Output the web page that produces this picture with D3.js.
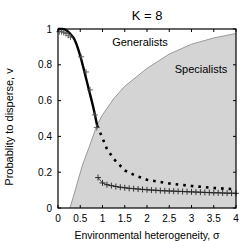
<!DOCTYPE html>
<html><head><meta charset="utf-8">
<script src="https://cdn.jsdelivr.net/npm/d3@7"></script>
<style>body{margin:0;background:#fff}text{font-family:"Liberation Sans",Arial,sans-serif}</style>
</head><body><svg id="c" width="242" height="241"></svg>
<script>
const xTicks=[0,0.5,1,1.5,2,2.5,3,3.5,4];
const yTicks=[0,0.2,0.4,0.6,0.8,1];
const boundaryX=[0.27,0.4,0.55,0.7,0.87,1.0,1.25,1.5,1.75,2.0,2.5,3.0,3.5,4.0];
const boundaryY=[0,0.11,0.24,0.34,0.46,0.52,0.61,0.68,0.73,0.78,0.86,0.915,0.95,0.975];
const solidX=[0,0.1,0.15,0.2,0.25,0.3,0.35,0.4,0.5,0.6,0.7,0.8,0.88];
const solidY=[1,1,0.998,0.99,0.98,0.965,0.95,0.925,0.85,0.755,0.655,0.555,0.46];
const dotX=[0.88,1.0,1.1,1.25,1.5,1.75,2.0,2.5,3.0,3.5,4.0];
const dotY=[0.46,0.39,0.33,0.275,0.21,0.18,0.158,0.137,0.123,0.112,0.104];
const plusUpX=[0.03,0.08,0.13,0.18,0.23,0.28,0.52,0.63,0.72,0.83,0.87];
const plusUpY=[0.985,0.985,0.98,0.975,0.965,0.955,0.845,0.76,0.66,0.52,0.45];
const plusLoX=[0.9,1.0,1.1,1.2,1.3,1.4,1.5,1.6,1.7,1.8,1.9,2.0,2.1,2.2,2.3,2.4,2.5,2.6,2.7,2.8,2.9,3.0,3.1,3.2,3.3,3.4,3.5,3.6,3.7,3.8,3.9,4.0];
const plusLoY=[0.17,0.14,0.13,0.125,0.12,0.116,0.113,0.11,0.108,0.106,0.104,0.102,0.1,0.099,0.097,0.096,0.095,0.094,0.093,0.092,0.091,0.09,0.089,0.088,0.087,0.086,0.085,0.085,0.084,0.083,0.083,0.082];

const svg=d3.select("#c");
const L=58,R=236,T=29,B=208;
const x=d3.scaleLinear().domain([0,4]).range([L,R]);
const y=d3.scaleLinear().domain([0,1]).range([B,T]);
const g=svg.append("g");
const zip=(a,b)=>a.map((v,i)=>[v,b[i]]);
const line=d3.line().x(d=>x(d[0])).y(d=>y(d[1]));

// gray region
const bpts=zip(boundaryX,boundaryY);
g.append("path").attr("d",line(bpts.concat([[4,0]]))+"Z").attr("fill","#d4d4d4").attr("stroke","none");
g.append("path").attr("d",line(bpts)).attr("fill","none").attr("stroke","#9a9a9a").attr("stroke-width",1);

// lower plus series with thin line
const lo=zip(plusLoX,plusLoY);
g.append("path").attr("d",line(lo)).attr("fill","none").attr("stroke","#333").attr("stroke-width",0.8);
function plus(pts,col){
  g.selectAll(null).data(pts).enter().append("path")
   .attr("d",d=>`M${x(d[0])-3},${y(d[1])}h6M${x(d[0])},${y(d[1])-3}v6`)
   .attr("stroke",col).attr("stroke-width",0.9).attr("fill","none");
}
plus(lo,"#222");

// dotted line
g.append("path").attr("d",line(zip(dotX,dotY))).attr("fill","none").attr("stroke","#000")
 .attr("stroke-width",2.6).attr("stroke-dasharray","2.6,5");
// solid line
g.append("path").attr("d",d3.line().curve(d3.curveMonotoneX).x(d=>x(d[0])).y(d=>y(d[1]))(zip(solidX,solidY)))
 .attr("fill","none").attr("stroke","#000").attr("stroke-width",2.4);
plus(zip(plusUpX,plusUpY),"#555");

// frame
g.append("rect").attr("x",L).attr("y",T).attr("width",R-L).attr("height",B-T).attr("fill","none").attr("stroke","#000").attr("stroke-width",1.2);
// ticks
xTicks.forEach(t=>{
  g.append("line").attr("x1",x(t)).attr("x2",x(t)).attr("y1",B).attr("y2",B-3).attr("stroke","#000");
  g.append("line").attr("x1",x(t)).attr("x2",x(t)).attr("y1",T).attr("y2",T+3).attr("stroke","#000");
  g.append("text").attr("x",x(t)).attr("y",B+14).attr("text-anchor","middle").attr("font-size",10).text(t);
});
yTicks.forEach(t=>{
  g.append("line").attr("x1",L).attr("x2",L+3).attr("y1",y(t)).attr("y2",y(t)).attr("stroke","#000");
  g.append("line").attr("x1",R).attr("x2",R-3).attr("y1",y(t)).attr("y2",y(t)).attr("stroke","#000");
  g.append("text").attr("x",L-6).attr("y",y(t)+3.5).attr("text-anchor","end").attr("font-size",10).text(t);
});
svg.append("text").attr("x",147).attr("y",20).attr("text-anchor","middle").attr("font-size",13).text("K = 8");
svg.append("text").attr("x",140).attr("y",46).attr("text-anchor","middle").attr("font-size",11).text("Generalists");
svg.append("text").attr("x",201).attr("y",73).attr("text-anchor","middle").attr("font-size",11).text("Specialists");
svg.append("text").attr("x",147).attr("y",239).attr("text-anchor","middle").attr("font-size",10.5).text("Environmental heterogeneity, σ");
svg.append("text").attr("transform","translate(13,127) rotate(-90)").attr("text-anchor","middle").attr("font-size",11).text("Probablity to disperse, v");
</script></body></html>
